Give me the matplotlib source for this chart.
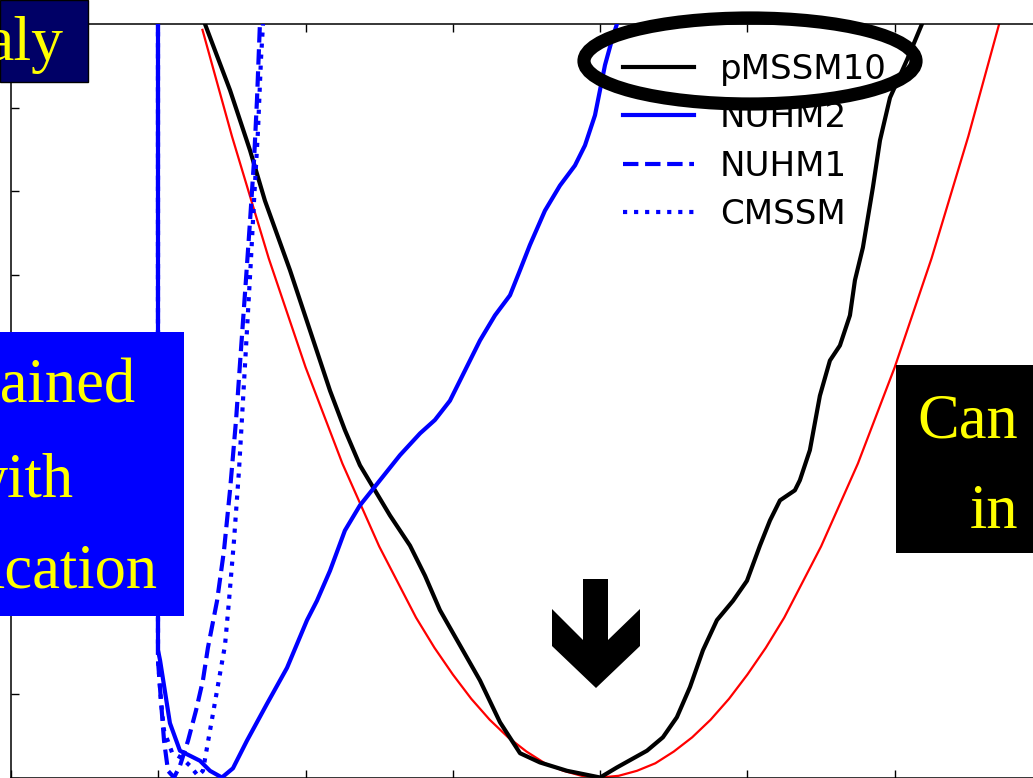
import matplotlib
matplotlib.use('Agg')
import matplotlib.pyplot as plt
from matplotlib.patches import Rectangle, Ellipse, Polygon

# Delta chi^2 profiles, x in tick units (ticks at integers), y in chi^2 units
pmssm10_x = [1.317, 1.487, 1.623, 1.724, 1.894, 2.030, 2.166, 2.267, 2.369, 2.471,
             2.573, 2.709, 2.811, 2.912, 3.048, 3.184, 3.320, 3.456, 3.591, 3.775,
             4.000, 4.114, 4.318, 4.426, 4.521, 4.610, 4.698, 4.793, 4.902, 4.997,
             5.085, 5.153, 5.221, 5.322, 5.356, 5.424, 5.492, 5.560, 5.628, 5.696,
             5.730, 5.784, 5.852, 5.900, 5.968, 6.083, 6.185]
pmssm10_y = [9.00, 8.21, 7.49, 6.89, 6.06, 5.34, 4.62, 4.15, 3.73, 3.43,
             3.13, 2.77, 2.41, 2.00, 1.58, 1.16, 0.66, 0.29, 0.18, 0.08,
             0.00, 0.12, 0.32, 0.48, 0.72, 1.08, 1.52, 1.88, 2.11, 2.35,
             2.77, 3.07, 3.31, 3.43, 3.55, 3.91, 4.56, 4.98, 5.16, 5.52,
             5.94, 6.33, 7.05, 7.61, 8.12, 8.57, 9.00]

nuhm2_x = [0.998, 0.998, 1.012, 1.079, 1.147, 1.283, 1.351, 1.432, 1.507, 1.602,
           1.738, 1.874, 2.010, 2.077, 2.166, 2.267, 2.369, 2.505, 2.641, 2.777,
           2.878, 2.980, 3.082, 3.184, 3.286, 3.388, 3.456, 3.523, 3.625, 3.727,
           3.829, 3.897, 3.965, 3.999, 4.033, 4.080, 4.114]
nuhm2_y = [9.50, 1.52, 1.40, 0.65, 0.32, 0.20, 0.08, 0.00, 0.11, 0.44,
           0.88, 1.31, 1.88, 2.11, 2.47, 2.95, 3.25, 3.55, 3.85, 4.11,
           4.27, 4.50, 4.86, 5.22, 5.52, 5.76, 6.06, 6.36, 6.77, 7.07,
           7.31, 7.55, 7.91, 8.21, 8.51, 8.81, 9.00]

nuhm1_x = [0.998, 0.998, 1.018, 1.039, 1.066, 1.107, 1.147, 1.202, 1.256, 1.303,
           1.337, 1.399, 1.446, 1.487, 1.528, 1.561, 1.595, 1.623, 1.650, 1.670, 1.690]
nuhm1_y = [9.50, 1.40, 0.92, 0.44, 0.08, 0.00, 0.14, 0.44, 0.80, 1.16,
           1.55, 2.11, 2.71, 3.43, 4.27, 5.10, 5.94, 6.65, 7.37, 8.09, 9.00]

cmssm_x = [0.998, 0.998, 1.018, 1.039, 1.093, 1.161, 1.215, 1.270, 1.303, 1.351,
           1.399, 1.453, 1.480, 1.514, 1.548, 1.575, 1.602, 1.629, 1.650, 1.677,
           1.697, 1.711]
cmssm_y = [9.50, 1.40, 0.92, 0.56, 0.30, 0.23, 0.14, 0.02, 0.08, 0.56,
           1.04, 1.58, 2.11, 2.83, 3.67, 4.50, 5.34, 6.18, 6.89, 7.73,
           8.57, 9.00]

# reference parabola
ref_x = [1.30, 1.50, 1.75, 2.00, 2.25, 2.50, 2.75, 2.875, 3.00, 3.125, 3.25, 3.375,
         3.50, 3.625, 3.75, 3.875, 4.00, 4.125, 4.25, 4.375, 4.50, 4.625, 4.75, 4.875,
         5.00, 5.125, 5.25, 5.50, 5.75, 6.00, 6.25, 6.50, 6.72]
ref_y = [8.93, 7.66, 6.20, 4.90, 3.75, 2.76, 1.91, 1.55, 1.23, 0.94, 0.69, 0.48,
         0.31, 0.17, 0.08, 0.02, 0.00, 0.02, 0.08, 0.17, 0.31, 0.48, 0.69, 0.94,
         1.23, 1.55, 1.91, 2.76, 3.75, 4.90, 6.20, 7.66, 9.07]

W, H = 1033, 778
fig = plt.figure(figsize=(W / 100, H / 100), dpi=100)


def fx(px):
    return px / W


def fy(py):
    return 1 - py / H


ax = fig.add_axes([fx(11), fy(777.5), fx(1042) - fx(11), fy(24) - fy(777.5)])

ax.plot(ref_x, ref_y, color='red', lw=1.6, zorder=2)
ax.plot(pmssm10_x, pmssm10_y, color='black', lw=3, label='pMSSM10', zorder=3)
ax.plot(nuhm2_x, nuhm2_y, color='blue', lw=3, label='NUHM2', zorder=4)
ax.plot(nuhm1_x, nuhm1_y, color='blue', lw=3, ls='--', label='NUHM1', zorder=4)
ax.plot(cmssm_x, cmssm_y, color='blue', lw=3, ls=':', label='CMSSM', zorder=4)

ax.set_xlim(0, 7)
ax.set_ylim(0, 9)
ax.set_xticks(range(0, 8))
ax.set_yticks(range(0, 10))
ax.tick_params(direction='in', length=6, width=1, top=True, right=True,
               labelbottom=False, labelleft=False)
for s in ax.spines.values():
    s.set_linewidth(1.1)

ax.legend(loc='upper left', bbox_to_anchor=(fx(623), fy(53)), bbox_transform=fig.transFigure,
          frameon=False, borderaxespad=0, borderpad=0, fontsize=24.5,
          handlelength=2.1, handletextpad=0.75, labelspacing=0.45)

# ellipse around the first legend entry
fig.patches.append(Ellipse((fx(750), fy(61)), fx(332), 86 / H, fill=False,
                           edgecolor='black', lw=9.5, transform=fig.transFigure, zorder=10))

# down arrow
arrow_px = [(583, 579), (608, 579), (608, 640), (640, 609), (640, 646), (596, 688),
            (552, 646), (552, 609), (583, 640)]
fig.patches.append(Polygon([(fx(a), fy(b)) for a, b in arrow_px], closed=True,
                           facecolor='black', edgecolor='none', transform=fig.transFigure, zorder=10))

# slide boxes
fig.patches.append(Rectangle((0, fy(82)), fx(88), 82 / H, facecolor='#000066',
                             edgecolor='black', lw=1, transform=fig.transFigure, zorder=10))
fig.patches.append(Rectangle((0, fy(616)), fx(184), (616 - 332) / H, facecolor='#0000ff',
                             edgecolor='none', transform=fig.transFigure, zorder=10))
fig.patches.append(Rectangle((fx(896), fy(553)), fx(1040) - fx(896), (553 - 365) / H,
                             facecolor='black', edgecolor='none', transform=fig.transFigure, zorder=10))

serif = 'Liberation Serif'
yel = '#ffff00'
fig.text(fx(64), fy(60), 'aly', ha='right', va='baseline', fontsize=46, family=serif,
         color=yel, zorder=11)
fig.text(fx(136), fy(403), 'rained', ha='right', va='baseline', fontsize=45, family=serif,
         color=yel, zorder=11)
fig.text(fx(74), fy(497), 'with', ha='right', va='baseline', fontsize=45, family=serif,
         color=yel, zorder=11)
fig.text(fx(158), fy(588), 'ication', ha='right', va='baseline', fontsize=45, family=serif,
         color=yel, zorder=11)
fig.text(fx(1018), fy(437), 'Can', ha='right', va='baseline', fontsize=45, family=serif,
         color=yel, zorder=11)
fig.text(fx(1018), fy(528), 'in', ha='right', va='baseline', fontsize=45, family=serif,
         color=yel, zorder=11)

fig.savefig('out.png', dpi=100)
